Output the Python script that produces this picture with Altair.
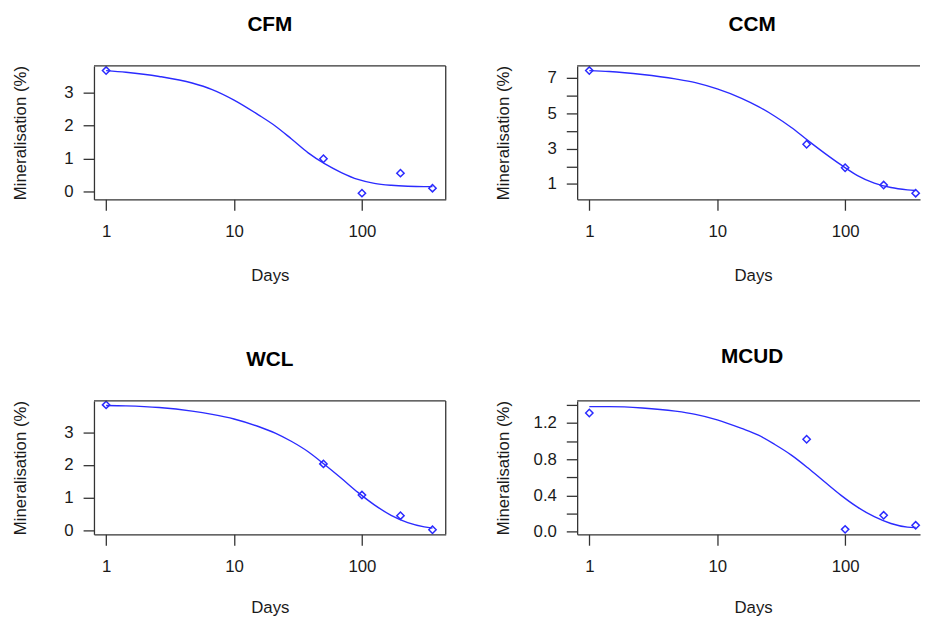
import altair as alt
import pandas as pd

# ---- data ----
obs_days = [1, 50, 100, 200, 356]
cfm_obs = [3.68, 0.99, -0.06, 0.55, 0.09]
ccm_obs = [7.42, 3.25, 1.92, 0.94, 0.48]
wcl_obs = [3.83, 2.03, 1.08, 0.45, 0.02]
mcud_obs = [1.31, 1.02, 0.025, 0.18, 0.07]

curve_days = [1, 1.43, 2.6, 4.7, 6.75, 10, 15.5, 21, 28, 38, 51, 69, 93, 125, 169, 228, 307, 356]
cfm_fit = [3.68, 3.63, 3.50, 3.30, 3.10, 2.78, 2.33, 1.99, 1.60, 1.17, 0.84, 0.57, 0.36, 0.24, 0.18, 0.15, 0.14, 0.14]
ccm_fit = [7.42, 7.37, 7.20, 6.95, 6.74, 6.38, 5.85, 5.38, 4.85, 4.20, 3.47, 2.75, 2.08, 1.48, 1.05, 0.80, 0.67, 0.63]
wcl_fit = [3.81, 3.80, 3.75, 3.64, 3.54, 3.40, 3.17, 2.97, 2.72, 2.40, 2.01, 1.59, 1.16, 0.78, 0.46, 0.24, 0.11, 0.07]
mcud_fit = [1.38, 1.38, 1.365, 1.33, 1.295, 1.235, 1.14, 1.065, 0.965, 0.845, 0.705, 0.55, 0.40, 0.27, 0.165, 0.09, 0.05, 0.045]

x_ticks = [1, 10, 100]
cfm_yticks = [0, 1, 2, 3]
ccm_yticks = [1, 2, 3, 4, 5, 6, 7]
wcl_yticks = [0, 1, 2, 3]
mcud_yticks = [0.0, 0.2, 0.4, 0.6, 0.8, 1.0, 1.2, 1.4]

BLUE = "#2b2bff"
BOX = "#333333"
TXT = "#1a1a1a"
FONT = "Liberation Sans"

H = 135
W_LEFT = 356
W_RIGHT = 347
X_MIN = 0.8035
X_MAX_LEFT = 451.9
X_MAX_RIGHT = 385.1


def panel(name, obs, fit, ydomain, yticks, fmt, label_expr, width, xmax, title_dx, right_border, days_y):
    pts = pd.DataFrame({"Days": obs_days, "Mineralisation": obs})
    crv = pd.DataFrame({"Days": curve_days, "Mineralisation": fit})
    one = pd.DataFrame({"k": [0]})

    x = alt.X(
        "Days:Q",
        scale=alt.Scale(type="log", domain=[X_MIN, xmax], nice=False),
        axis=alt.Axis(
            values=x_ticks, format="d", title="Days",
            titleX=178, titleY=days_y, titleAlign="center", titleBaseline="alphabetic",
            labelBaseline="middle", labelPadding=22, labelFlush=False, labelOverlap=False,
        ),
    )
    y_axis_kwargs = dict(
        values=yticks, format=fmt, title="Mineralisation (%)",
        titleX=-74, titleY=H / 2, titleAngle=270, titleAlign="center", titleBaseline="middle",
        labelPadding=10, labelOverlap=False, labelFlush=False, labelAlign="right", labelBaseline="middle",
    )
    if label_expr:
        y_axis_kwargs["labelExpr"] = label_expr
    y = alt.Y(
        "Mineralisation:Q",
        scale=alt.Scale(domain=ydomain, nice=False, zero=False),
        axis=alt.Axis(**y_axis_kwargs),
    )

    line = alt.Chart(crv).mark_line(color=BLUE, strokeWidth=1.4, interpolate="monotone").encode(x=x, y=y)
    points = alt.Chart(pts).mark_point(
        shape="diamond", size=55, filled=False, color=BLUE, strokeWidth=1.5, opacity=1
    ).encode(x=x, y=y)
    top = alt.Chart(one).mark_rule(color=BOX, strokeWidth=1.3).encode(
        x=alt.value(0), x2=alt.value(width), y=alt.value(0)
    )
    layers = [line, points, top]
    if right_border:
        right = alt.Chart(one).mark_rule(color=BOX, strokeWidth=1.3).encode(
            x=alt.value(width), y=alt.value(0), y2=alt.value(H)
        )
        layers.append(right)
    return alt.layer(*layers).properties(
        width=width,
        height=H,
        title=alt.TitleParams(
            text=name, font=FONT, fontSize=21, fontWeight="bold", color="#000000",
            baseline="alphabetic", offset=12, anchor="middle", dx=title_dx,
        ),
    )


cfm = panel("CFM", cfm_obs, cfm_fit, [-0.25, 3.82], cfm_yticks, "d", None,
            W_LEFT, X_MAX_LEFT, 0, True, 82)
ccm = panel("CCM", ccm_obs, ccm_fit, [0.13, 7.68], ccm_yticks, "d",
            "datum.value % 2 == 1 ? datum.label : ''", W_RIGHT, X_MAX_RIGHT, 3.5, False, 82)
wcl = panel("WCL", wcl_obs, wcl_fit, [-0.12, 3.95], wcl_yticks, "d", None,
            W_LEFT, X_MAX_LEFT, 0, True, 79)
mcud = panel("MCUD", mcud_obs, mcud_fit, [-0.03, 1.443], mcud_yticks, ".1f",
             "round(datum.value * 10) % 4 == 0 ? datum.label : ''", W_RIGHT, X_MAX_RIGHT, 3.5, False, 79)

row1 = alt.hconcat(cfm, ccm, spacing=47)
row2 = alt.hconcat(wcl, mcud, spacing=47)

chart = (
    alt.vconcat(row1, row2, spacing=62)
    .properties(padding={"left": 3, "top": 2, "right": 0, "bottom": 0})
    .configure(background="white")
    .configure_view(stroke="transparent")
    .configure_axis(
        labelFont=FONT, labelFontSize=17, labelColor=TXT,
        titleFont=FONT, titleFontSize=17, titleFontWeight="normal", titleColor=TXT,
        tickSize=11, tickColor=BOX, tickWidth=1.3,
        domainColor=BOX, domainWidth=1.3, grid=False,
    )
)

chart.save("out.html", embed_options={"renderer": "svg", "actions": False})
